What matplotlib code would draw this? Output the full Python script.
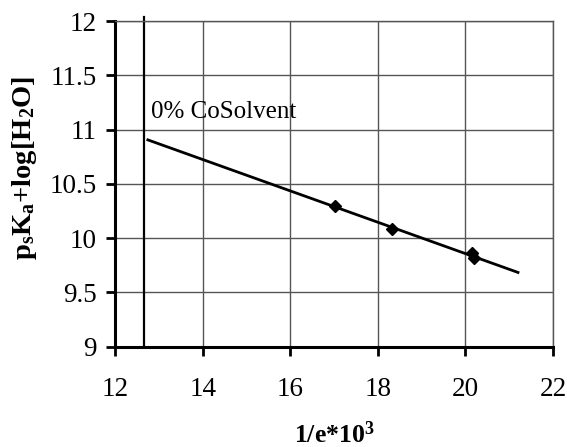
import matplotlib
matplotlib.use("Agg")
import matplotlib.pyplot as plt

# data
x_points = [17.01, 18.33, 20.15, 20.20]
y_points = [10.30, 10.08, 9.86, 9.82]
fit_x = [12.74, 21.2]
fit_y = [10.905, 9.684]
vline_x = 12.65
label_text = "0% CoSolvent"
x_ticks = [12, 14, 16, 18, 20, 22]
y_ticks = [9, 9.5, 10, 10.5, 11, 11.5, 12]
y_tick_labels = ["9", "9.5", "10", "10.5", "11", "11.5", "12"]

plt.rcParams['font.family'] = ['Liberation Serif', 'DejaVu Serif']
plt.rcParams['mathtext.fontset'] = 'custom'
plt.rcParams['mathtext.rm'] = 'Liberation Serif'
plt.rcParams['mathtext.bf'] = 'Liberation Serif:bold'

fig = plt.figure(figsize=(5.67, 4.47), dpi=100)
ax = fig.add_axes([0.2037, 0.2244, 0.7716, 0.7286])
ax.set_xlim(12, 22)
ax.set_ylim(9, 12)
ax.set_xticks(x_ticks)
ax.set_yticks(y_ticks)
ax.set_yticklabels(y_tick_labels)
ax.grid(True, color='#555555', linewidth=1.0)
ax.set_axisbelow(True)
for s in ['top', 'right']:
    ax.spines[s].set_color('#555555')
    ax.spines[s].set_linewidth(1.0)
for s in ['left', 'bottom']:
    ax.spines[s].set_color('black')
    ax.spines[s].set_linewidth(2.2)
ax.tick_params(axis='both', direction='out', length=6.5, width=2, labelsize=19.5)
ax.tick_params(axis='x', pad=15)
ax.tick_params(axis='y', pad=7)

ax.plot([vline_x, vline_x], [9, 12.04], color='black', linewidth=1.6, clip_on=False)
ax.plot(fit_x, fit_y, color='black', linewidth=2)
ax.plot(x_points, y_points, linestyle='none', marker='D', markersize=6.5, color='black')
ax.text(12.82, 11.11, label_text, fontsize=18, ha='left', va='baseline')

ax.set_xlabel(r'$\mathbf{1/e{*}10^3}$', fontsize=18.5)
ax.xaxis.set_label_coords(0.5, -0.228)
ax.set_ylabel(r'$\mathbf{p_sK_a{+}log[H_2O]}$', fontsize=20.5)
ax.yaxis.set_label_coords(-0.175, 0.55)

fig.savefig('out.png', dpi=100)
